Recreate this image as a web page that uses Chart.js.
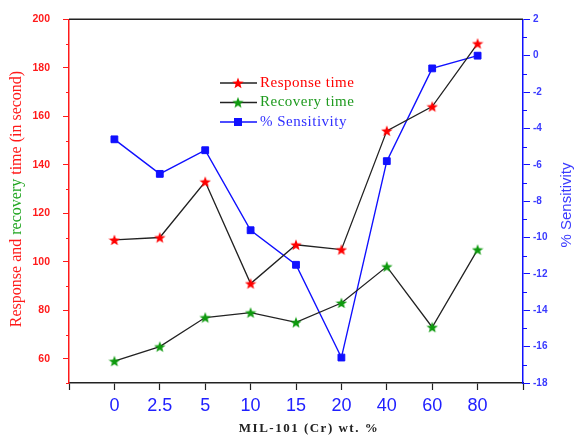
<!DOCTYPE html>
<html>
<head>
<meta charset="utf-8">
<script src="https://cdn.jsdelivr.net/npm/chart.js@4.4.1/dist/chart.umd.min.js"></script>
<style>
  html, body { margin: 0; padding: 0; background: #fff; }
  #wrap { width: 577px; height: 437px; }
</style>
</head>
<body>
<div id="wrap"><canvas id="chart" width="577" height="437"></canvas></div>
<script>
// MIL-101 (Cr) loading (wt. %) on the x axis, one slot per sample
const LOADINGS = ["0", "2.5", "5", "10", "15", "20", "40", "60", "80"];
const RESPONSE_TIME = [109, 110, 133, 91, 107, 105, 154, 164, 190];
const RECOVERY_TIME = [59, 65, 77, 79, 75, 83, 98, 73, 105];
const SENSITIVITY = [-4.6, -6.5, -5.2, -9.6, -11.5, -16.6, -5.8, -0.7, 0];

const RED = "#ff1a1a";
const GREEN = "#139a13";
const BLUE = "#1010ff";
const LINE = "#222222";

// filled five-point star used as point marker
function starImage(color, size) {
  const c = document.createElement("canvas");
  c.width = size;
  c.height = size;
  const g = c.getContext("2d");
  const cx = size / 2, cy = size / 2 + 0.5;
  const ro = size / 2, ri = ro * 0.42;
  g.beginPath();
  for (let i = 0; i < 10; i++) {
    const r = i % 2 === 0 ? ro : ri;
    const a = -Math.PI / 2 + (i * Math.PI) / 5;
    const x = cx + r * Math.cos(a), y = cy + r * Math.sin(a);
    i === 0 ? g.moveTo(x, y) : g.lineTo(x, y);
  }
  g.closePath();
  g.fillStyle = color;
  g.fill();
  return c;
}

const redStar = starImage("#ff0000", 12);
const greenStar = starImage("#0e9a0e", 12);

const toPoints = (arr) => arr.map((v, i) => ({ x: i, y: v }));

const clear = "rgba(0,0,0,0)";

// frame line on top, minor ticks, axis titles and the in-plot legend
const decorations = {
  id: "decorations",
  afterDraw(chart) {
    const { ctx, chartArea: a, scales } = chart;
    ctx.save();

    ctx.strokeStyle = LINE;
    ctx.lineWidth = 1.5;
    ctx.beginPath();
    ctx.moveTo(a.left, a.top);
    ctx.lineTo(a.right, a.top);
    ctx.stroke();

    ctx.lineWidth = 1;
    ctx.strokeStyle = RED;
    scales.y.ticks.forEach((t) => {
      if (t.value % 20 === 0) return;
      const py = Math.round(scales.y.getPixelForValue(t.value)) + 0.5;
      ctx.beginPath();
      ctx.moveTo(a.left - 3, py);
      ctx.lineTo(a.left, py);
      ctx.stroke();
    });
    ctx.strokeStyle = BLUE;
    scales.y2.ticks.forEach((t) => {
      if (t.value % 2 === 0) return;
      const py = Math.round(scales.y2.getPixelForValue(t.value)) + 0.5;
      ctx.beginPath();
      ctx.moveTo(a.right, py);
      ctx.lineTo(a.right + 4, py);
      ctx.stroke();
    });

    // left title, split colours
    ctx.save();
    ctx.translate(17, 199);
    ctx.rotate(-Math.PI / 2);
    ctx.font = "16px 'Liberation Serif', 'Times New Roman', serif";
    ctx.textBaseline = "middle";
    const parts = [["Response and ", RED], ["recovery", "#22a622"], [" time (in second)", RED]];
    const total = parts.reduce((s, p) => s + ctx.measureText(p[0]).width, 0);
    let x = -total / 2;
    parts.forEach(([txt, col]) => {
      ctx.fillStyle = col;
      ctx.fillText(txt, x, 0);
      x += ctx.measureText(txt).width;
    });
    ctx.restore();

    // right title
    ctx.save();
    ctx.translate(567, 205);
    ctx.rotate(-Math.PI / 2);
    ctx.font = "15px Arial, 'Liberation Sans', sans-serif";
    ctx.fillStyle = "#3a3aff";
    ctx.textAlign = "center";
    ctx.textBaseline = "middle";
    ctx.fillText("% Sensitivity", 0, 0);
    ctx.restore();

    // x title
    ctx.font = "bold 13px 'Liberation Serif', 'Times New Roman', serif";
    ctx.letterSpacing = "1.5px";
    ctx.fillStyle = "#222";
    ctx.textAlign = "center";
    ctx.textBaseline = "middle";
    ctx.fillText("MIL-101 (Cr) wt. %", 309, 429);
    ctx.letterSpacing = "0px";

    // legend
    const rows = [
      { label: "Response time", line: LINE, marker: redStar, text: "#ff0000" },
      { label: "Recovery time", line: LINE, marker: greenStar, text: "#1e9a1e" },
      { label: "% Sensitivity", line: BLUE, marker: null, text: "#3030ff" },
    ];
    ctx.font = "15px 'Liberation Serif', 'Times New Roman', serif";
    ctx.letterSpacing = "0.5px";
    ctx.textAlign = "left";
    rows.forEach((r, i) => {
      const y = 83 + i * 19.5;
      ctx.strokeStyle = r.line;
      ctx.lineWidth = 1.5;
      ctx.beginPath();
      ctx.moveTo(220, y);
      ctx.lineTo(257, y);
      ctx.stroke();
      if (r.marker) {
        ctx.drawImage(r.marker, 238 - r.marker.width / 2, y - r.marker.height / 2);
      } else {
        ctx.fillStyle = BLUE;
        ctx.fillRect(234, y - 4, 8, 8);
      }
      ctx.fillStyle = r.text;
      ctx.fillText(r.label, 260, y);
    });
    ctx.restore();
  },
};

new Chart(document.getElementById("chart"), {
  type: "line",
  data: {
    datasets: [
      {
        label: "Response time",
        data: toPoints(RESPONSE_TIME),
        yAxisID: "y",
        borderColor: LINE,
        borderWidth: 1.3,
        pointStyle: redStar,
        pointRadius: 6,
        tension: 0,
      },
      {
        label: "Recovery time",
        data: toPoints(RECOVERY_TIME),
        yAxisID: "y",
        borderColor: LINE,
        borderWidth: 1.3,
        pointStyle: greenStar,
        pointRadius: 6,
        tension: 0,
      },
      {
        label: "% Sensitivity",
        data: toPoints(SENSITIVITY),
        yAxisID: "y2",
        borderColor: BLUE,
        borderWidth: 1.4,
        pointStyle: "rect",
        pointRadius: 4.8,
        pointBackgroundColor: BLUE,
        pointBorderColor: BLUE,
        pointBorderWidth: 1,
        tension: 0,
      },
    ],
  },
  options: {
    responsive: false,
    animation: false,
    devicePixelRatio: 1,
    layout: { padding: { top: 17, left: 0, right: 0, bottom: 0 } },
    plugins: { legend: { display: false }, tooltip: { enabled: false } },
    scales: {
      x: {
        type: "linear",
        min: -1,
        max: 9,
        afterFit: (s) => { s.height = 54; },
        border: { color: LINE, width: 1.5 },
        grid: { drawOnChartArea: false, tickLength: 7, tickColor: LINE, tickWidth: 1.2 },
        ticks: {
          stepSize: 1,
          autoSkip: false,
          maxRotation: 0,
          padding: 5,
          color: "#2020ff",
          font: { family: "Arial, 'Liberation Sans', sans-serif", size: 18 },
          callback: (v) => LOADINGS[v] ?? "",
        },
      },
      y: {
        position: "left",
        min: 50,
        max: 200,
        afterFit: (s) => { s.width = 69; },
        border: { color: RED, width: 1.5 },
        grid: {
          drawOnChartArea: false,
          tickLength: 6,
          tickWidth: 1,
          tickColor: (c) => (c.tick && c.tick.value % 20 === 0 ? RED : clear),
        },
        ticks: {
          stepSize: 10,
          autoSkip: false,
          padding: 13,
          color: RED,
          font: { family: "Arial, 'Liberation Sans', sans-serif", size: 10.5, weight: "bold" },
          callback: (v) => (v % 20 === 0 && v >= 60 ? String(v) : ""),
        },
      },
      y2: {
        position: "right",
        min: -18,
        max: 2,
        afterFit: (s) => { s.width = 54; },
        border: { color: BLUE, width: 1.5 },
        grid: {
          drawOnChartArea: false,
          tickLength: 7,
          tickWidth: 1,
          tickColor: (c) => (c.tick && c.tick.value % 2 === 0 ? BLUE : clear),
        },
        ticks: {
          stepSize: 1,
          autoSkip: false,
          padding: 3,
          color: "#3a3aff",
          font: { family: "Arial, 'Liberation Sans', sans-serif", size: 10, weight: "bold" },
          callback: (v) => (v % 2 === 0 ? String(v) : ""),
        },
      },
    },
  },
  plugins: [decorations],
});
</script>
</body>
</html>
